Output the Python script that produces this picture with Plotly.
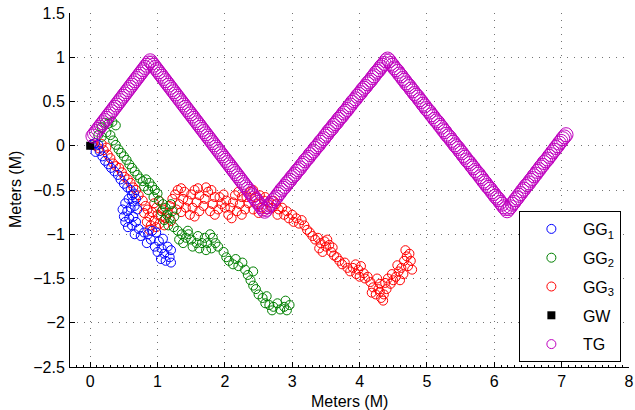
import plotly.graph_objects as go

# ---------------- data ----------------
gg1_x = [0.02,0.07,0.12,0.08,0.14,0.18,0.22,0.27,0.31,0.36,0.41,0.45,0.50,0.55,0.60,0.65,0.68,0.63,0.57,0.52,
         0.48,0.55,0.60,0.66,0.70,0.64,0.58,0.52,0.50,0.56,0.62,0.68,0.72,0.66,0.75,0.80,0.86,0.90,0.84,0.92,
         0.98,1.02,0.96,1.00,1.06,1.10,1.05,1.12,1.18,1.20,1.15,1.20,1.08,0.62]
gg1_y = [0.01,0.03,0.01,-0.07,-0.06,-0.12,-0.17,-0.21,-0.25,-0.29,-0.33,-0.38,-0.43,-0.47,-0.50,-0.54,-0.60,-0.63,-0.60,-0.65,
         -0.72,-0.74,-0.70,-0.68,-0.72,-0.80,-0.82,-0.86,-0.80,-0.92,-0.90,-0.86,-0.94,-1.00,-1.02,-0.98,-1.00,-1.06,-1.10,-0.96,
         -0.98,-1.08,-1.14,-1.20,-1.16,-1.22,-1.28,-1.30,-1.26,-1.18,-1.14,-1.32,-1.05,-0.56]

gg2_x = [0.12,0.17,0.22,0.27,0.33,0.38,0.17,0.24,0.30,0.34,0.38,0.42,0.46,0.50,0.54,0.58,0.62,0.66,0.70,0.74,
         0.78,0.83,0.88,0.92,0.86,0.80,0.96,1.00,0.94,1.02,1.08,1.12,1.06,1.14,1.10,1.18,1.22,1.20,1.25,1.16,
         1.24,1.30,1.36,1.42,1.38,1.32,1.46,1.50,1.52,1.58,1.62,1.66,1.70,1.74,1.78,1.82,1.86,1.80,1.72,1.90,
         1.98,2.02,2.06,2.12,2.16,2.20,2.26,2.30,2.34,2.38,2.42,2.46,2.50,2.56,2.60,2.66,2.72,2.78,2.82,2.88,
         2.92,2.96,2.90,2.70,2.62,1.60,1.45,2.42]
gg2_y = [0.12,0.21,0.26,0.25,0.27,0.23,0.10,0.15,0.12,0.06,0.01,-0.04,-0.08,-0.12,-0.16,-0.21,-0.25,-0.29,-0.33,-0.37,
         -0.40,-0.38,-0.42,-0.46,-0.50,-0.46,-0.50,-0.54,-0.58,-0.62,-0.66,-0.70,-0.74,-0.78,-0.84,-0.82,-0.74,-0.66,-0.80,-0.90,
         -0.92,-0.96,-1.00,-1.04,-1.10,-1.06,-1.00,-1.06,-1.14,-1.10,-1.16,-1.10,-1.04,-1.10,-1.00,-1.04,-1.10,-1.16,-1.18,-1.14,
         -1.20,-1.26,-1.30,-1.34,-1.28,-1.36,-1.32,-1.40,-1.46,-1.52,-1.58,-1.62,-1.68,-1.72,-1.78,-1.80,-1.82,-1.78,-1.85,-1.82,
         -1.86,-1.80,-1.75,-1.86,-1.70,-1.02,-0.96,-1.42]

gg3_x = [0.03,0.08,0.13,0.17,0.20,0.24,0.26,0.30,0.34,0.38,0.43,0.47,0.51,0.56,0.60,0.64,0.68,0.72,
         0.78,0.82,0.80,0.85,0.88,0.84,0.90,0.95,0.92,0.98,1.00,1.03,1.05,1.08,1.10,1.12,1.15,0.95,1.02,1.18,1.20,0.88,0.98,
         1.22,1.26,1.30,1.35,1.40,1.38,1.32,1.28,1.35,1.42,1.45,1.50,1.55,1.60,1.62,1.58,1.52,1.48,1.55,1.62,
         1.68,1.70,1.75,1.72,1.80,1.85,1.82,1.78,1.85,1.90,1.95,1.92,1.98,2.02,2.00,2.05,2.10,2.08,2.12,2.15,
         2.20,2.25,2.22,2.18,2.25,2.30,2.35,2.32,2.38,2.42,2.45,2.48,2.42,2.50,2.55,2.58,2.52,2.60,2.65,2.62,
         2.70,2.72,2.76,2.80,2.78,
         2.85,2.88,2.92,2.95,3.00,3.02,3.06,3.10,3.14,3.18,3.22,3.26,3.30,3.34,3.38,3.42,3.40,3.45,3.50,3.52,
         3.48,3.55,3.58,3.60,3.62,3.66,3.70,3.74,3.78,3.82,3.86,3.90,3.94,3.98,4.02,4.06,4.00,3.95,4.08,4.12,
         4.16,4.20,4.18,4.24,4.28,4.30,4.26,4.32,4.36,4.40,4.38,4.42,4.46,4.50,4.48,4.54,4.58,4.56,4.62,4.65,
         4.60,4.66,4.70,4.68,4.74,4.76,4.72,4.78,4.35,4.30]
gg3_y = [0.02,0.00,-0.03,0.02,-0.05,-0.02,-0.10,-0.14,-0.20,-0.23,-0.25,-0.30,-0.35,-0.38,-0.42,-0.47,-0.50,-0.56,
         -0.62,-0.68,-0.76,-0.72,-0.80,-0.86,-0.90,-0.85,-0.75,-0.70,-0.78,-0.88,-0.80,-0.72,-0.90,-0.82,-0.76,-0.65,-0.62,-0.68,-0.85,-0.95,-0.92,
         -0.60,-0.55,-0.50,-0.48,-0.52,-0.60,-0.66,-0.72,-0.75,-0.70,-0.62,-0.55,-0.50,-0.48,-0.56,-0.64,-0.70,-0.78,-0.80,-0.74,
         -0.68,-0.60,-0.52,-0.47,-0.50,-0.58,-0.66,-0.74,-0.78,-0.72,-0.66,-0.58,-0.55,-0.62,-0.70,-0.78,-0.82,-0.70,-0.64,-0.56,
         -0.52,-0.58,-0.66,-0.74,-0.78,-0.72,-0.65,-0.58,-0.52,-0.50,-0.58,-0.66,-0.72,-0.76,-0.70,-0.62,-0.56,-0.58,-0.64,-0.72,
         -0.70,-0.62,-0.66,-0.72,-0.78,
         -0.70,-0.78,-0.74,-0.82,-0.78,-0.86,-0.82,-0.88,-0.84,-0.90,-0.95,-0.98,-1.02,-1.06,-1.04,-1.10,-1.16,-1.20,-1.14,-1.06,
         -1.08,-1.12,-1.20,-1.15,-1.24,-1.26,-1.30,-1.34,-1.32,-1.38,-1.42,-1.38,-1.34,-1.40,-1.36,-1.44,-1.48,-1.45,-1.50,-1.48,
         -1.54,-1.60,-1.66,-1.68,-1.62,-1.56,-1.50,-1.72,-1.68,-1.62,-1.55,-1.50,-1.56,-1.52,-1.45,-1.48,-1.42,-1.35,-1.38,-1.45,
         -1.52,-1.30,-1.25,-1.18,-1.22,-1.30,-1.36,-1.40,-1.75,-1.65]

gw_x = [0.0]
gw_y = [0.0]

tg_x = [0.04,0.065,0.09,0.115,0.14,0.165,0.19,0.215,0.24,0.265,0.29,0.315,0.34,0.365,0.39,0.415,0.44,0.465,0.49,0.515,
        0.54,0.565,0.59,0.615,0.64,0.665,0.69,0.715,0.74,0.765,0.79,0.815,0.84,0.865,0.89,
        0.915,0.94,0.965,0.99,1.015,1.04,1.065,1.09,1.115,1.14,1.165,1.19,1.215,1.24,1.265,1.29,1.315,1.34,1.365,1.39,
        1.415,1.44,1.465,1.49,1.515,1.54,1.565,1.59,1.615,1.64,1.665,1.69,1.715,1.74,1.765,1.79,1.815,1.84,1.865,1.89,
        1.915,1.94,1.965,1.99,2.015,2.04,2.065,2.09,2.115,2.14,2.165,2.19,2.215,2.24,2.265,2.29,2.315,2.34,2.365,2.39,
        2.415,2.44,2.465,2.49,2.515,2.54,2.565,2.59,
        2.615,2.64,2.665,2.69,2.715,2.74,2.765,2.79,2.815,2.84,2.865,2.89,2.915,2.94,2.965,2.99,3.015,3.04,3.065,3.09,
        3.115,3.14,3.165,3.19,3.215,3.24,3.265,3.29,3.315,3.34,3.365,3.39,3.415,3.44,3.465,3.49,3.515,3.54,3.565,3.59,
        3.615,3.64,3.665,3.69,3.715,3.74,3.765,3.79,3.815,3.84,3.865,3.89,3.915,3.94,3.965,3.99,4.015,4.04,4.065,4.09,
        4.115,4.14,4.165,4.19,4.215,4.24,4.265,4.29,4.315,4.34,4.365,4.39,4.415,
        4.44,4.465,4.49,4.515,4.54,4.565,4.59,4.615,4.64,4.665,4.69,4.715,4.74,4.765,4.79,4.815,4.84,4.865,4.89,4.915,
        4.94,4.965,4.99,5.015,5.04,5.065,5.09,5.115,5.14,5.165,5.19,5.215,5.24,5.265,5.29,5.315,5.34,5.365,5.39,5.415,
        5.44,5.465,5.49,5.515,5.54,5.565,5.59,5.615,5.64,5.665,5.69,5.715,5.74,5.765,5.79,5.815,5.84,5.865,5.89,5.915,
        5.94,5.965,5.99,6.015,6.04,6.065,6.09,6.115,6.14,6.165,6.19,
        6.215,6.24,6.265,6.29,6.315,6.34,6.365,6.39,6.415,6.44,6.465,6.49,6.515,6.54,6.565,6.59,6.615,6.64,6.665,6.69,
        6.715,6.74,6.765,6.79,6.815,6.84,6.865,6.89,6.915,6.94,6.965,6.99,7.015,7.04,7.065]
tg_y = [0.11,0.135,0.16,0.185,0.21,0.235,0.26,0.285,0.31,0.335,0.36,0.385,0.41,0.435,0.46,0.485,0.51,0.535,0.56,0.585,
        0.61,0.635,0.66,0.685,0.71,0.735,0.76,0.785,0.81,0.835,0.86,0.885,0.91,0.935,0.96,
        0.935,0.91,0.885,0.86,0.835,0.81,0.785,0.76,0.735,0.71,0.685,0.66,0.635,0.61,0.585,0.56,0.535,0.51,0.485,0.46,
        0.435,0.41,0.385,0.36,0.335,0.31,0.285,0.26,0.235,0.21,0.185,0.16,0.135,0.11,0.085,0.06,0.035,0.01,-0.015,-0.04,
        -0.065,-0.09,-0.115,-0.14,-0.165,-0.19,-0.215,-0.24,-0.265,-0.29,-0.315,-0.34,-0.365,-0.39,-0.415,-0.44,-0.465,-0.49,-0.515,-0.54,
        -0.565,-0.59,-0.615,-0.64,-0.665,-0.69,-0.715,-0.74,
        -0.72,-0.69,-0.67,-0.65,-0.62,-0.60,-0.58,-0.55,-0.53,-0.50,-0.48,-0.46,-0.43,-0.41,-0.39,-0.36,-0.34,-0.32,-0.29,-0.27,
        -0.25,-0.22,-0.20,-0.17,-0.15,-0.13,-0.10,-0.08,-0.06,-0.03,-0.01,0.01,0.04,0.06,0.08,0.11,0.13,0.16,0.18,0.20,
        0.23,0.25,0.27,0.30,0.32,0.34,0.37,0.39,0.41,0.44,0.46,0.49,0.51,0.53,0.56,0.58,0.60,0.63,0.65,0.67,
        0.70,0.72,0.74,0.77,0.79,0.82,0.84,0.86,0.89,0.91,0.93,0.96,0.98,
        0.96,0.93,0.91,0.88,0.86,0.84,0.81,0.79,0.76,0.74,0.71,0.69,0.67,0.64,0.62,0.59,0.57,0.55,0.52,0.50,
        0.47,0.45,0.42,0.40,0.38,0.35,0.33,0.30,0.28,0.26,0.23,0.21,0.18,0.16,0.13,0.11,0.09,0.06,0.04,0.01,
        -0.01,-0.03,-0.06,-0.08,-0.11,-0.13,-0.16,-0.18,-0.20,-0.23,-0.25,-0.28,-0.30,-0.32,-0.35,-0.37,-0.40,-0.42,-0.45,-0.47,
        -0.49,-0.52,-0.54,-0.57,-0.59,-0.61,-0.64,-0.66,-0.69,-0.71,-0.735,
        -0.71,-0.69,-0.66,-0.64,-0.61,-0.59,-0.56,-0.54,-0.51,-0.49,-0.46,-0.44,-0.42,-0.39,-0.37,-0.34,-0.32,-0.29,-0.27,-0.24,
        -0.22,-0.19,-0.17,-0.15,-0.12,-0.10,-0.07,-0.05,-0.02,0.00,0.03,0.05,0.08,0.10,0.125]

x_ticks = [0, 1, 2, 3, 4, 5, 6, 7, 8]
y_ticks = [1.5, 1, 0.5, 0, -0.5, -1, -1.5, -2, -2.5]
y_tick_text = ["1.5", "1", "0.5", "0", "\u22120.5", "\u22121", "\u22121.5", "\u22122", "\u22122.5"]
axis_title = "Meters (M)"

C_BLUE = "#0000ff"
C_GREEN = "#008000"
C_RED = "#ff0000"
C_MAG = "#bf00bf"
FONT = "Liberation Sans, Arial, Helvetica, sans-serif"

fig = go.Figure()

def ring(color, size):
    return dict(symbol="circle-open", size=size, color=color, line=dict(width=1, color=color))

# drawing order: red, green, blue, GW, TG; legend order via legendrank
fig.add_trace(go.Scatter(x=gg3_x, y=gg3_y, mode="markers", name="GG<sub>3</sub>",
                         marker=ring(C_RED, 9), legendrank=3, legendgroup="g3"))
fig.add_trace(go.Scatter(x=gg2_x, y=gg2_y, mode="markers", name="GG<sub>2</sub>",
                         marker=ring(C_GREEN, 9), legendrank=2, legendgroup="g2"))
fig.add_trace(go.Scatter(x=gg1_x, y=gg1_y, mode="markers", name="GG<sub>1</sub>",
                         marker=ring(C_BLUE, 9), legendrank=1, legendgroup="g1"))
fig.add_trace(go.Scatter(x=gw_x, y=gw_y, mode="markers", name="GW",
                         marker=dict(symbol="square", size=8, color="black"), legendrank=4, legendgroup="gw"))
fig.add_trace(go.Scatter(x=tg_x, y=tg_y, mode="markers", name="TG",
                         marker=ring(C_MAG, 14), showlegend=False, legendgroup="tg"))
fig.add_trace(go.Scatter(x=[None], y=[None], mode="markers", name="TG",
                         marker=ring(C_MAG, 9), legendrank=5, legendgroup="tg"))

axis_common = dict(
    showline=True, linecolor="black", linewidth=1, mirror=False,
    ticks="inside", ticklen=5, tickcolor="black", tickwidth=1,
    showgrid=True, gridcolor="rgba(0,0,0,0.55)", gridwidth=1, griddash="1px,6px",
    zeroline=False, automargin=False, ticklabeloverflow="allow",
    tickfont=dict(family=FONT, size=16, color="black"),
)

fig.update_layout(
    width=635, height=410,
    margin=dict(l=70, r=6, t=13, b=43, autoexpand=False),
    paper_bgcolor="white", plot_bgcolor="white",
    font=dict(family=FONT, size=16, color="black"),
    xaxis=dict(range=[-0.3, 8], tickvals=x_ticks, ticktext=[str(v) for v in x_ticks],
               minor=dict(dtick=0.1, tick0=0, ticks="inside", ticklen=2, tickcolor="black", showgrid=False),
               **axis_common),
    yaxis=dict(range=[-2.5, 1.5], tickvals=y_ticks, ticktext=y_tick_text, ticklabelstandoff=1,
               **axis_common),
    legend=dict(x=0.803, y=0.4407, xanchor="left", yanchor="top",
                bgcolor="white", bordercolor="black", borderwidth=1,
                font=dict(family=FONT, size=16, color="black"),
                tracegroupgap=5, itemsizing="trace", itemwidth=53),
    showlegend=True,
    annotations=[
        dict(text=axis_title, xref="paper", yref="paper", x=0.5, y=0, yshift=-34,
             xanchor="center", yanchor="middle", showarrow=False,
             font=dict(family=FONT, size=16, color="black")),
        dict(text=axis_title, xref="paper", yref="paper", x=0, y=0.5, xshift=-55,
             xanchor="center", yanchor="middle", textangle=-90, showarrow=False,
             font=dict(family=FONT, size=16, color="black")),
    ],
)

# remove the browser's default 8px page margin so the figure fills the window exactly
fig.write_html("out.html", config={"displayModeBar": False},
               post_script="document.body.style.margin='0px';")
